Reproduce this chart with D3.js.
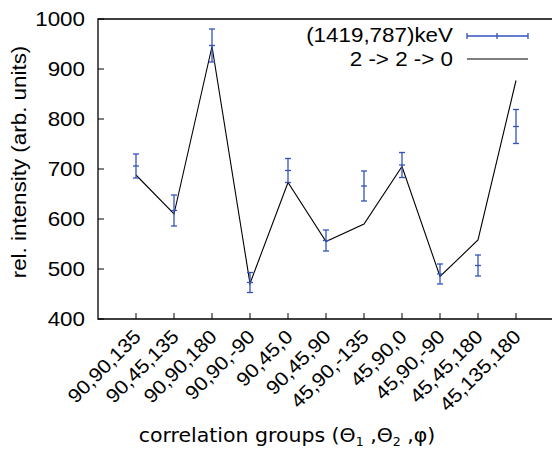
<!DOCTYPE html>
<html>
<head>
<meta charset="utf-8">
<script src="https://cdn.jsdelivr.net/npm/d3@7"></script>
<style>
    body { margin: 0; background: #fff; }
    text { font-family: "Liberation Sans", Arial, sans-serif; fill: #000; }
</style>
</head>
<body>
<div id="chart"></div>
<script>
// correlation groups (theta1, theta2, phi)
const categories = ["90,90,135", "90,45,135", "90,90,180", "90,90,-90", "90,45,0", "90,45,90",
    "45,90,-135", "45,90,0", "45,90,-90", "45,45,180", "45,135,180"];
// (1419,787)keV measured intensities and errors
const measured = [706, 617, 947, 473, 697, 557, 666, 708, 490, 507, 785];
const errors = [24, 31, 33, 20, 24, 21, 30, 25, 20, 21, 34];
// 2 -> 2 -> 0 calculation
const theory = [688, 610, 945, 471, 673, 555, 590, 705, 485, 558, 877];
const yTicks = [400, 500, 600, 700, 800, 900, 1000];

const width = 552, height = 449;
const margin = {left: 98, top: 19, right: -2, bottom: 130};
const blue = "#3352bb";
const fontSize = 20;

const svg = d3.select("#chart").append("svg")
    .attr("width", width)
    .attr("height", height);

const x = d3.scaleLinear()
    .domain([0, categories.length + 1])
    .range([margin.left, width - margin.right]);
const y = d3.scaleLinear()
    .domain([400, 1000])
    .range([height - margin.bottom, margin.top]);

// stretched label helper (the original font is wider than Liberation Sans)
const label = (g, tx, ty, angle, anchor, str, size, stretch, dy) => {
    return g.append("text")
        .attr("transform", "translate(" + tx + "," + ty + ") rotate(" + angle + ") scale(" + (stretch || 1.12) + ",1)")
        .attr("text-anchor", anchor)
        .attr("dy", dy === undefined ? "0.35em" : dy)
        .style("font-size", (size || fontSize) + "px")
        .text(str);
};

const x0 = x.range()[0], x1 = x.range()[1];
const y0 = y.range()[0], y1 = y.range()[1];

// frame
svg.append("path")
    .attr("d", "M" + x1 + "," + y1 + "H" + x0 + "V" + y0 + "H" + x1)
    .attr("fill", "none")
    .attr("stroke", "#000")
    .attr("stroke-width", 1.3);

// y ticks
const yAxis = svg.append("g");
yTicks.forEach(t => {
    yAxis.append("line")
        .attr("x1", x0).attr("x2", x0 + 6)
        .attr("y1", y(t)).attr("y2", y(t))
        .attr("stroke", "#000");
    label(yAxis, x0 - 13, y(t), 0, "end", t);
});

// x ticks
const xAxis = svg.append("g");
categories.forEach((c, i) => {
    xAxis.append("line")
        .attr("x1", x(i + 1)).attr("x2", x(i + 1))
        .attr("y1", y0).attr("y2", y0 - 6)
        .attr("stroke", "#000");
    label(xAxis, x(i + 1) + 6, y0 + 19, -45, "end", c, 19.5, 1.08, 0);
});

// theory line
svg.append("path")
    .datum(theory)
    .attr("fill", "none")
    .attr("stroke", "#000")
    .attr("stroke-width", 1.1)
    .attr("d", d3.line().x((d, i) => x(i + 1)).y(d => y(d)));

// error bars
const bars = svg.append("g")
    .attr("stroke", blue)
    .attr("stroke-width", 1.3);
measured.forEach((v, i) => {
    const cx = x(i + 1);
    const top = y(v + errors[i]), bot = y(v - errors[i]);
    bars.append("line").attr("x1", cx).attr("x2", cx).attr("y1", top).attr("y2", bot);
    bars.append("line").attr("x1", cx - 3).attr("x2", cx + 3).attr("y1", top).attr("y2", top);
    bars.append("line").attr("x1", cx - 3).attr("x2", cx + 3).attr("y1", bot).attr("y2", bot);
    bars.append("line").attr("x1", cx - 3).attr("x2", cx + 3).attr("y1", y(v)).attr("y2", y(v));
});

// legend
const legend = svg.append("g");
label(legend, 453, 35, 0, "end", "(1419,787)keV");
label(legend, 453, 59, 0, "end", "2 -> 2 -> 0");
const lg = legend.append("g").attr("stroke", blue).attr("stroke-width", 1.3);
lg.append("line").attr("x1", 467).attr("x2", 528).attr("y1", 36).attr("y2", 36);
lg.append("line").attr("x1", 467).attr("x2", 467).attr("y1", 33).attr("y2", 39);
lg.append("line").attr("x1", 528).attr("x2", 528).attr("y1", 33).attr("y2", 39);
lg.append("line").attr("x1", 497).attr("x2", 497).attr("y1", 33).attr("y2", 39);
legend.append("line")
    .attr("x1", 467).attr("x2", 528).attr("y1", 59).attr("y2", 59)
    .attr("stroke", "#000").attr("stroke-width", 1.1);

// axis titles
label(svg, 19, 162, -90, "middle", "rel. intensity (arb. units)");

const xt = svg.append("text")
    .attr("transform", "translate(287,435) scale(1.05,1)")
    .attr("text-anchor", "middle")
    .attr("dy", "0.35em")
    .style("font-family", "'DejaVu Sans', sans-serif")
    .style("font-size", "19.5px");
xt.append("tspan").text("correlation groups (Θ");
xt.append("tspan").attr("dy", 4).style("font-size", "12px").text("1");
xt.append("tspan").attr("dy", -4).text(" ,Θ");
xt.append("tspan").attr("dy", 4).style("font-size", "12px").text("2");
xt.append("tspan").attr("dy", -4).text(" ,φ)");
</script>
</body>
</html>
